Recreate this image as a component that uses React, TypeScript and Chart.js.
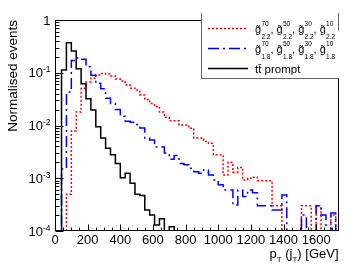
import React, { useEffect, useRef } from 'react';
import { Chart, registerables } from 'chart.js';

Chart.register(...registerables);

// ---- data (histogram bins: first bin starts at BIN_START_GEV, each BIN_WIDTH_GEV wide) ----
const BIN_START_GEV = 10;
const BIN_WIDTH_GEV = 30;

const TTBAR_PROMPT = [
  0, 0.113, 0.37, 0.258, 0.119, 0.062, 0.032, 0.0197, 0.0095, 0.0058,
  0.0037, 0.0028, 0.0019, 0.00102, 0.00124, 0.0008, 0.0005, 0.00047, 0.00025, 0.0002,
  0.00013, 0.00017, 0, 0.00012, 0, 0, 0, 0, 0, 0,
  0, 0, 0, 0, 0, 0, 0, 0, 0, 0,
  0, 0, 0, 0, 0, 0, 0, 0, 0, 0,
  0, 0, 0, 0, 0, 0, 0,
];

const GLUINO_22 = [
  0, 0, 0.0005, 0.0079, 0.018, 0.051, 0.067, 0.079, 0.091, 0.097,
  0.095, 0.087, 0.076, 0.07, 0.059, 0.051, 0.047, 0.038, 0.031, 0.026,
  0.023, 0.018, 0.0143, 0.0123, 0.0123, 0.0102, 0.0102, 0.0089, 0.0058, 0.0058,
  0.005, 0.0046, 0.0028, 0.0028, 0.00115, 0.002, 0.0013, 0.0016, 0.00093, 0.001,
  0.00105, 0.0009, 0.0009, 0.0009, 0.0003, 0.0003, 0, 0, 0, 0,
  0.0003, 0.0003, 0, 0.0003, 0, 0, 0.0002,
];

const GLUINO_18 = [
  0, 0.0015, 0.043, 0.17, 0.19, 0.18, 0.13, 0.09, 0.063, 0.05,
  0.033, 0.026, 0.02, 0.015, 0.012, 0.0115, 0.0105, 0.009, 0.0058, 0.0053,
  0.0039, 0.0039, 0.003, 0.0023, 0.0027, 0.0019, 0.0018, 0.00155, 0.00133, 0.00124,
  0.00144, 0.00115, 0.00093, 0.00075, 0.0006, 0.0006, 0.00031, 0.0006, 0.00045, 0.0006,
  0.00053, 0.0003, 0.0003, 0.0003, 0.00025, 0.00025, 0.00048, 0, 0, 0,
  0.0002, 0, 0, 0.0003, 0.0002, 0, 0.00022,
];

const X_TICK_VALUES = [0, 200, 400, 600, 800, 1000, 1200, 1400, 1600];
const X_TICK_LABELS = ['0', '200', '400', '600', '800', '1000', '1200', '1400', '1600'];
const Y_TICK_EXPONENTS = [0, -1, -2, -3, -4];
const GLUINO_MASSES = ['70', '50', '30', '10'];
const GLUINO_WIDTHS = ['2.2', '1.8'];

const X_MIN = 0;
const X_MAX = 1740;
const Y_MIN = 1e-4;
const Y_MAX = 1;
const X_MAJOR_STEP = 200;
const X_MINOR_STEP = 50;

const Y_TITLE = 'Normalised events';
const TTBAR_LABEL = 'tt\u0304 prompt';

const FONT = '"Liberation Sans", Arial, Helvetica, sans-serif';
const RED = '#ff0000';
const BLUE = '#0000ff';
const BLACK = '#000000';
const RED_DASH = [2, 2];
const BLUE_DASH = [11, 4, 2, 4];
const FLOOR = 1e-7;

function histPoints(values: number[]) {
  const pts = values.map((v, i) => ({
    x: BIN_START_GEV + i * BIN_WIDTH_GEV,
    y: v > 0 ? v : FLOOR,
  }));
  const last = values[values.length - 1];
  const endX = BIN_START_GEV + values.length * BIN_WIDTH_GEV;
  pts.push({ x: endX, y: last > 0 ? last : FLOOR });
  pts.push({ x: endX, y: FLOOR });
  return pts;
}

const rootStylePlugin = {
  id: 'rootStyle',
  afterDatasetsDraw(chart: any) {
    const ctx = chart.ctx as CanvasRenderingContext2D;
    const { left, right, top, bottom } = chart.chartArea;
    const xs = chart.scales.x;
    const ys = chart.scales.y;
    ctx.save();
    ctx.setLineDash([]);
    ctx.strokeStyle = '#000';
    ctx.lineWidth = 1;

    const L = Math.round(left) + 0.5;
    const R = Math.round(right) - 0.5;
    const T = Math.round(top) + 0.5;
    const B = Math.round(bottom) - 0.5;
    ctx.strokeRect(L, T, R - L, B - T);

    ctx.beginPath();
    for (let v = X_MIN; v <= X_MAX; v += X_MINOR_STEP) {
      const px = Math.round(xs.getPixelForValue(v)) + 0.5;
      const len = v % X_MAJOR_STEP === 0 ? 6 : 3;
      ctx.moveTo(px, B);
      ctx.lineTo(px, B - len);
    }
    for (let e = -4; e <= 0; e++) {
      for (let m = 1; m <= 9; m++) {
        const v = m * Math.pow(10, e);
        if (v > Y_MAX * 1.0001) break;
        const py = Math.round(ys.getPixelForValue(v)) + 0.5;
        const len = m === 1 ? 8 : 4;
        ctx.moveTo(L, py);
        ctx.lineTo(L + len, py);
      }
    }
    ctx.stroke();

    ctx.fillStyle = '#000';
    ctx.textBaseline = 'alphabetic';

    // x tick labels
    ctx.font = `13px ${FONT}`;
    ctx.textAlign = 'center';
    X_TICK_LABELS.forEach((lab, i) => {
      ctx.fillText(lab, xs.getPixelForValue(X_TICK_VALUES[i]), bottom + 12.5);
    });

    // y tick labels
    ctx.textAlign = 'left';
    const xr = left - 4.5;
    Y_TICK_EXPONENTS.forEach((e) => {
      const py = ys.getPixelForValue(Math.pow(10, e));
      if (e === 0) {
        ctx.font = `13px ${FONT}`;
        const w = ctx.measureText('1').width;
        ctx.fillText('1', xr - w, py + 4.6);
      } else {
        const sup = String(e);
        ctx.font = `8.5px ${FONT}`;
        const ws = ctx.measureText(sup).width;
        ctx.font = `13px ${FONT}`;
        const wb = ctx.measureText('10').width;
        ctx.fillText('10', xr - ws - wb, py + 4.6);
        ctx.font = `8.5px ${FONT}`;
        ctx.fillText(sup, xr - ws, py - 0.5);
      }
    });

    // y title
    ctx.save();
    ctx.translate(16.5, top);
    ctx.rotate(-Math.PI / 2);
    ctx.textAlign = 'right';
    ctx.font = `13.5px ${FONT}`;
    ctx.fillText(Y_TITLE, 0, 0);
    ctx.restore();

    // x title: p_T (j_T) [GeV]
    const pieces: [string, number, number][] = [
      ['p', 13, 0],
      ['T', 8, 4],
      [' (j', 13, 0],
      ['T', 8, 4],
      [') [GeV]', 13, 0],
    ];
    let total = 0;
    pieces.forEach(([t, f]) => {
      ctx.font = `${f}px ${FONT}`;
      total += ctx.measureText(t).width;
    });
    let cx = right - 0.5 - total;
    const xtBase = bottom + 27;
    ctx.textAlign = 'left';
    pieces.forEach(([t, f, dy]) => {
      ctx.font = `${f}px ${FONT}`;
      ctx.fillText(t, cx, xtBase + dy);
      cx += ctx.measureText(t).width;
    });

    // legend box
    const lx0 = 201;
    const ly0 = 13;
    const ly1 = 78;
    ctx.fillStyle = '#ffffff';
    ctx.fillRect(lx0, ly0, R + 0.5 - lx0, ly1 - ly0);
    ctx.strokeStyle = '#666';
    ctx.beginPath();
    ctx.moveTo(lx0 + 0.5, ly0);
    ctx.lineTo(lx0 + 0.5, ly1 + 0.5);
    ctx.lineTo(R, ly1 + 0.5);
    ctx.moveTo(R, ly0);
    ctx.lineTo(R, T + 10);
    ctx.stroke();

    const entries = [
      { color: RED, dash: RED_DASH, y: 28 },
      { color: BLUE, dash: BLUE_DASH, y: 48 },
      { color: BLACK, dash: [] as number[], y: 68 },
    ];
    entries.forEach((en) => {
      ctx.strokeStyle = en.color;
      ctx.lineWidth = 1.5;
      ctx.setLineDash(en.dash);
      ctx.beginPath();
      ctx.moveTo(208, en.y + 0.5);
      ctx.lineTo(248, en.y + 0.5);
      ctx.stroke();
    });
    ctx.setLineDash([]);

    ctx.fillStyle = '#000';
    GLUINO_WIDTHS.forEach((wd, row) => {
      const base = 33 + row * 20;
      let gx = 255;
      GLUINO_MASSES.forEach((m, i) => {
        ctx.font = `11px ${FONT}`;
        ctx.textAlign = 'left';
        ctx.fillText('g', gx, base);
        const wg = ctx.measureText('g').width;
        ctx.textAlign = 'center';
        ctx.font = `10px ${FONT}`;
        ctx.fillText('\u02dc', gx + wg / 2, base - 0.5);
        ctx.textAlign = 'left';
        gx += wg + 0.3;
        ctx.font = `6.5px ${FONT}`;
        ctx.fillText(m, gx, base - 7);
        ctx.fillText(wd, gx, base + 5.5);
        gx += Math.max(ctx.measureText(m).width, ctx.measureText(wd).width);
        if (i < GLUINO_MASSES.length - 1) {
          ctx.font = `11px ${FONT}`;
          ctx.fillText(', ', gx, base);
          gx += ctx.measureText(', ').width;
        }
      });
    });
    ctx.textAlign = 'left';
    ctx.font = `11.5px ${FONT}`;
    ctx.fillText(TTBAR_LABEL, 255, 73);

    ctx.restore();
  },
};

export default function App() {
  const ref = useRef<HTMLCanvasElement | null>(null);
  useEffect(() => {
    if (!ref.current) return;
    const chart = new Chart(ref.current, {
      type: 'line',
      data: {
        datasets: [
          {
            label: 'tt prompt',
            data: histPoints(TTBAR_PROMPT),
            borderColor: BLACK,
            borderWidth: 1.5,
            stepped: true,
            pointRadius: 0,
            fill: false,
          },
          {
            label: 'gluino 1.8',
            data: histPoints(GLUINO_18),
            borderColor: BLUE,
            borderWidth: 1.5,
            borderDash: BLUE_DASH,
            stepped: true,
            pointRadius: 0,
            fill: false,
          },
          {
            label: 'gluino 2.2',
            data: histPoints(GLUINO_22),
            borderColor: RED,
            borderWidth: 1.5,
            borderDash: RED_DASH,
            stepped: true,
            pointRadius: 0,
            fill: false,
          },
        ],
      },
      options: {
        animation: false,
        responsive: false,
        devicePixelRatio: 1,
        events: [],
        layout: { padding: { left: 55, right: 16, top: 20, bottom: 34 } },
        plugins: { legend: { display: false }, tooltip: { enabled: false } },
        scales: {
          x: { type: 'linear', min: X_MIN, max: X_MAX, display: false },
          y: { type: 'logarithmic', min: Y_MIN, max: Y_MAX, display: false },
        },
      },
      plugins: [rootStylePlugin],
    } as any);
    return () => chart.destroy();
  }, []);
  return (
    <div style={{ position: 'fixed', left: 0, top: 0, width: 355, height: 265, background: '#fff' }}>
      <canvas ref={ref} width={355} height={265} style={{ display: 'block', width: 355, height: 265 }} />
    </div>
  );
}
